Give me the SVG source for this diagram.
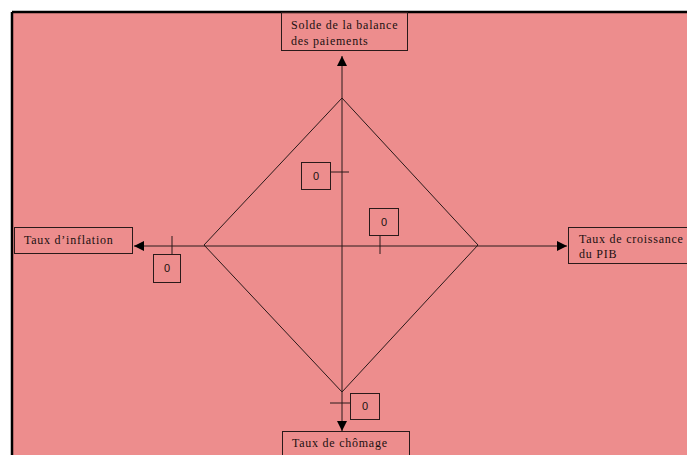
<svg xmlns="http://www.w3.org/2000/svg" width="687" height="455" viewBox="0 0 687 455">
  <style>
    .box { fill: none; stroke: #2a1a1a; stroke-width: 1; }
    .line { stroke: #2a1a1a; stroke-width: 1; fill: none; }
    .lbl { font-family: "Liberation Serif", "Times New Roman", serif; font-size: 12px; fill: #1a1010; letter-spacing: 0.75px; }
    .zero { font-family: "Liberation Sans", Arial, sans-serif; font-size: 11px; fill: #1a1010; text-anchor: middle; }
  </style>
  <defs>
    <marker id="arrow" viewBox="0 0 10 10" refX="10" refY="5" markerWidth="10" markerHeight="10" markerUnits="userSpaceOnUse" orient="auto">
      <path d="M0,0 L10,5 L0,10 Z" fill="#000"/>
    </marker>
  </defs>

  <!-- page background and frame -->
  <rect x="0" y="0" width="687" height="455" fill="#ffffff"/>
  <rect x="12" y="12" width="680" height="450" fill="#ed8d8d"/>
  <line x1="12" y1="12" x2="687" y2="12" stroke="#000" stroke-width="2.5"/>
  <line x1="12" y1="12" x2="12" y2="455" stroke="#000" stroke-width="2.5"/>

  <!-- axes, diamond and ticks -->
  <g id="connectors">
    <line class="line" x1="342" y1="392" x2="342" y2="56" marker-end="url(#arrow)"/>
    <line class="line" x1="342" y1="392" x2="342" y2="431" marker-end="url(#arrow)"/>
    <line class="line" x1="342" y1="246" x2="134" y2="246" marker-end="url(#arrow)"/>
    <line class="line" x1="342" y1="246" x2="567" y2="246" marker-end="url(#arrow)"/>
    <polygon class="line" points="342,98 478,245 342,392 204,245"/>
    <line class="line" x1="172" y1="236" x2="172" y2="255"/>
    <line class="line" x1="330" y1="172" x2="349" y2="172"/>
    <line class="line" x1="380" y1="236" x2="380" y2="254"/>
    <line class="line" x1="330" y1="403" x2="350" y2="403"/>
  </g>

  <g id="node-solde">
    <rect class="box" x="281.5" y="12.5" width="126" height="38"/>
    <text class="lbl" x="291" y="29">Solde de la balance</text>
    <text class="lbl" x="291" y="45">des paiements</text>
  </g>

  <g id="node-inflation">
    <rect class="box" x="14.5" y="227.5" width="118" height="26"/>
    <text class="lbl" x="24" y="244">Taux d’inflation</text>
  </g>

  <g id="node-croissance">
    <rect class="box" x="568.5" y="227.5" width="130" height="36"/>
    <text class="lbl" x="579" y="243">Taux de croissance</text>
    <text class="lbl" x="579" y="258">du PIB</text>
  </g>

  <g id="node-chomage">
    <rect class="box" x="282.5" y="431.5" width="127" height="30"/>
    <text class="lbl" x="292" y="447">Taux de chômage</text>
  </g>

  <g id="zero-inflation">
    <rect class="box" x="153.5" y="254.5" width="27" height="28"/>
    <text class="zero" x="167" y="272">0</text>
  </g>

  <g id="zero-solde">
    <rect class="box" x="301.5" y="162.5" width="29" height="27"/>
    <text class="zero" x="316" y="180">0</text>
  </g>

  <g id="zero-croissance">
    <rect class="box" x="369.5" y="208.5" width="29" height="27"/>
    <text class="zero" x="384" y="226">0</text>
  </g>

  <g id="zero-chomage">
    <rect class="box" x="350.5" y="393.5" width="29" height="26"/>
    <text class="zero" x="365" y="410">0</text>
  </g>
</svg>
